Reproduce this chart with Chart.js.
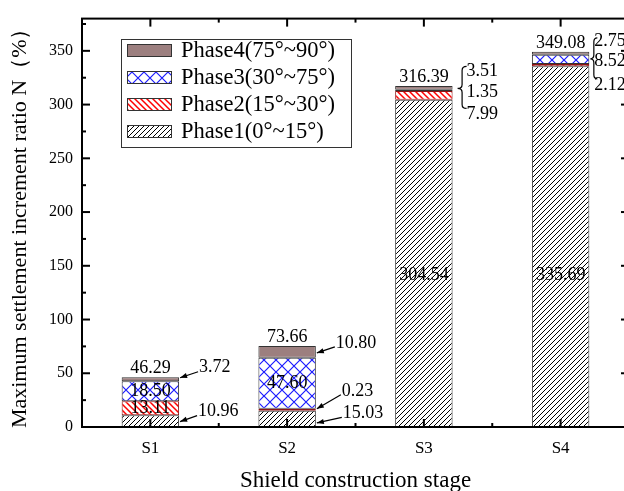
<!DOCTYPE html>
<html><head><meta charset="utf-8">
<script src="https://cdn.jsdelivr.net/npm/chart.js@4.4.0/dist/chart.umd.min.js"></script>
<style>
html,body{margin:0;padding:0;background:#fff;overflow:hidden;width:624px;height:491px}
#wrap{position:absolute;left:0;top:0;width:640px;height:491px}
</style>
</head><body><div id="wrap"><canvas id="c" width="640" height="491"></canvas></div>
<script>
// ---- data ----
const categories = ['S1', 'S2', 'S3', 'S4'];
const seriesNames = ['Phase1(0°~15°)', 'Phase2(15°~30°)', 'Phase3(30°~75°)', 'Phase4(75°~90°)'];
const phase1 = [10.96, 15.03, 304.54, 335.69];
const phase2 = [13.11, 0.23, 7.99, 2.12];
const phase3 = [18.50, 47.60, 1.35, 8.52];
const phase4 = [3.72, 10.80, 3.51, 2.75];
const totalLabels = ['46.29', '73.66', '316.39', '349.08'];
const yTickValues = [0, 50, 100, 150, 200, 250, 300, 350];
const yTitle = 'Maximum settlement increment ratio N（%）';
const xTitle = 'Shield construction stage';

// ---- styles ----
const FONT = "'Liberation Serif','Times New Roman',serif";
function tile(n, draw){
  const c = document.createElement('canvas'); c.width = n; c.height = n;
  const g = c.getContext('2d'); g.fillStyle = '#fff'; g.fillRect(0,0,n,n);
  draw(g, n); return g.createPattern(c, 'repeat');
}
const patP1 = tile(5, (g,n)=>{ g.strokeStyle='#000'; g.lineWidth=1; g.beginPath();
  g.moveTo(0,n); g.lineTo(n,0); g.moveTo(-1,1); g.lineTo(1,-1); g.moveTo(n-1,n+1); g.lineTo(n+1,n-1); g.stroke(); });
const patP2 = tile(6, (g,n)=>{ g.strokeStyle='#ff0000'; g.lineWidth=1.5; g.beginPath();
  g.moveTo(0,0); g.lineTo(n,n); g.moveTo(-1,n-1); g.lineTo(1,n+1); g.moveTo(n-1,-1); g.lineTo(n+1,1); g.stroke(); });
const patP3 = tile(12, (g,n)=>{ g.strokeStyle='#1a1aff'; g.lineWidth=1.2; g.beginPath();
  g.moveTo(0,0); g.lineTo(n,n); g.moveTo(0,n); g.lineTo(n,0); g.stroke(); });
const fills = [patP1, patP2, patP3, '#9c7f7f'];
const borders = ['#333', '#8a1515', '#333', '#333'];
const seriesData = [phase1, phase2, phase3, phase4];

// annotation layout (positions relative to bars)
const insideNotes = [ {cat:0, ds:1}, {cat:0, ds:2}, {cat:1, ds:2}, {cat:2, ds:0, atValue:141}, {cat:3, ds:0, atValue:141} ];
const arrowNotes = [
  {cat:0, ds:3, dx:20, dy:-11.5, tipDy:-1.5},
  {cat:0, ds:0, dx:19, dy:-9.5, tipDy:0.5},
  {cat:1, ds:3, dx:20, dy:-9, tipDy:1},
  {cat:1, ds:1, dx:26, dy:-19, tipDy:-1},
  {cat:1, ds:0, dx:27, dy:-5.5, tipDy:4}
];
const braceNotes = [
  {cat:2, tipDx:5, w:9, y1:-19.5, ym:2.5, y2:22.5, tx:14, ty:[-15, 6.5, 28]},
  {cat:3, tipDx:1, w:7, y1:-14, ym:7, y2:27, tx:5, ty:[-11, 9.5, 33]}
];

function line(ctx, x1, y1, x2, y2){ ctx.beginPath(); ctx.moveTo(x1,y1); ctx.lineTo(x2,y2); ctx.stroke(); }
function arrow(ctx, x1, y1, x2, y2){
  ctx.lineWidth = 1.2; line(ctx, x1, y1, x2, y2);
  const a = Math.atan2(y2-y1, x2-x1), L = 7, W = 2.6;
  ctx.beginPath(); ctx.moveTo(x2, y2);
  ctx.lineTo(x2 - L*Math.cos(a) + W*Math.sin(a), y2 - L*Math.sin(a) - W*Math.cos(a));
  ctx.lineTo(x2 - L*Math.cos(a) - W*Math.sin(a), y2 - L*Math.sin(a) + W*Math.cos(a));
  ctx.closePath(); ctx.fill();
}
function brace(ctx, x, y1, ym, y2, w){
  const m = x + w/2, r = Math.min(4, (ym-y1)/3);
  ctx.beginPath();
  ctx.moveTo(x+w, y1); ctx.quadraticCurveTo(m, y1, m, y1+r);
  ctx.lineTo(m, ym-r); ctx.quadraticCurveTo(m, ym, x, ym);
  ctx.quadraticCurveTo(m, ym, m, ym+r);
  ctx.lineTo(m, y2-r); ctx.quadraticCurveTo(m, y2, x+w, y2);
  ctx.stroke();
}

const decor = {
  id: 'decor',
  afterDraw(chart){
    const {ctx, chartArea:a, scales:{x, y}} = chart;
    ctx.save();
    ctx.strokeStyle = '#000'; ctx.fillStyle = '#000';
    // labels
    ctx.font = '18px ' + FONT; ctx.textBaseline = 'middle';
    const segs = (cat, ds) => {
      const el = chart.getDatasetMeta(ds).data[cat];
      return {x: el.x, left: el.x - el.width/2, right: el.x + el.width/2, top: Math.min(el.y, el.base), bottom: Math.max(el.y, el.base), cy: (el.y + el.base)/2};
    };
    insideNotes.forEach(n => {
      const s = segs(n.cat, n.ds);
      ctx.textAlign = 'center';
      const py = n.atValue !== undefined ? y.getPixelForValue(n.atValue) : s.cy;
      ctx.fillText(seriesData[n.ds][n.cat].toFixed(2), s.x, py);
    });
    categories.forEach((c, i) => {
      const s = segs(i, 3);
      ctx.textAlign = 'center';
      ctx.fillText(totalLabels[i], s.x, s.top - 9);
    });
    arrowNotes.forEach(n => {
      const s = segs(n.cat, n.ds);
      const tx = s.right + n.dx, ty = s.cy + n.dy;
      ctx.textAlign = 'left';
      ctx.fillText(seriesData[n.ds][n.cat].toFixed(2), tx, ty);
      arrow(ctx, tx - 1, ty + 4, s.right + 1, s.cy + n.tipDy);
    });
    braceNotes.forEach(n => {
      const s = segs(n.cat, 3);
      ctx.lineWidth = 1.2;
      brace(ctx, s.right + n.tipDx, s.top + n.y1, s.top + n.ym, s.top + n.y2, n.w);
      ctx.textAlign = 'left';
      [3, 2, 1].forEach((ds, k) => ctx.fillText(seriesData[ds][n.cat].toFixed(2), s.right + n.tx, s.top + n.ty[k]));
    });
    // frame
    ctx.lineWidth = 2;
    ctx.strokeRect(a.left, a.top, a.right - a.left, a.bottom - a.top);
    for (let v = 0; v <= 375; v += 25){
      const py = y.getPixelForValue(v);
      if (py < a.top + 2) continue;
      const L = (v % 50 === 0) ? 8 : 4;
      line(ctx, a.left, py, a.left + L, py);
      line(ctx, a.right, py, a.right - L, py);
    }
    categories.forEach((c, i) => {
      const px = x.getPixelForValue(i);
      line(ctx, px, a.bottom, px, a.bottom - 8);
      line(ctx, px, a.top, px, a.top + 8);
      if (i < categories.length - 1){
        const mx = (px + x.getPixelForValue(i + 1)) / 2;
        line(ctx, mx, a.bottom, mx, a.bottom - 4);
        line(ctx, mx, a.top, mx, a.top + 4);
      }
    });
    // legend
    const lx = 121, ly = 39, lw = 230, lh = 108;
    ctx.lineWidth = 1; ctx.strokeStyle = '#333';
    ctx.strokeRect(lx + 0.5, ly + 0.5, lw, lh);
    ctx.font = '22.5px ' + FONT; ctx.textAlign = 'left'; ctx.textBaseline = 'middle';
    [3, 2, 1, 0].forEach((ds, k) => {
      const cy = ly + 11 + k * 27;
      ctx.fillStyle = fills[ds];
      ctx.fillRect(127, cy - 6, 44, 12);
      ctx.strokeStyle = '#333'; ctx.strokeRect(127.5, cy - 5.5, 44, 12);
      ctx.fillStyle = '#000';
      ctx.fillText(seriesNames[ds], 181, cy + 1);
    });
    ctx.restore();
  }
};

new Chart(document.getElementById('c'), {
  type: 'bar',
  data: {
    labels: categories,
    datasets: seriesNames.map((n, i) => ({
      label: n, data: seriesData[i], backgroundColor: fills[i], borderColor: borders[i],
      borderWidth: 1, borderSkipped: false, barPercentage: 0.42, categoryPercentage: 1,
      minBarLength: i === 1 ? 2 : 0
    }))
  },
  options: {
    responsive: false, devicePixelRatio: 1, animation: false,
    layout: { padding: { top: 12, right: 11, left: 0, bottom: 0 } },
    plugins: { legend: { display: false }, tooltip: { enabled: false } },
    scales: {
      x: {
        stacked: true,
        afterFit(s){ s.height = 64; },
        grid: { display: false, drawTicks: false }, border: { display: false },
        ticks: { padding: 11, color: '#000', font: { family: FONT, size: 17 } },
        title: { display: true, text: xTitle, color: '#000', font: { family: FONT, size: 23, lineHeight: 0.85 }, padding: { top: 0, bottom: 0 } }
      },
      y: {
        stacked: true, min: 0, max: 380,
        afterFit(s){ s.width = 82; },
        grid: { display: false, drawTicks: false }, border: { display: false },
        ticks: { stepSize: 50, includeBounds: false, padding: 9, color: '#000', font: { family: FONT, size: 16 },
          callback: (v) => yTickValues.includes(v) ? String(v) : '' },
        title: { display: true, text: yTitle, color: '#000', font: { family: FONT, size: 22 }, padding: { top: 7, bottom: 0 } }
      }
    }
  },
  plugins: [decor]
});
</script>
</body></html>
